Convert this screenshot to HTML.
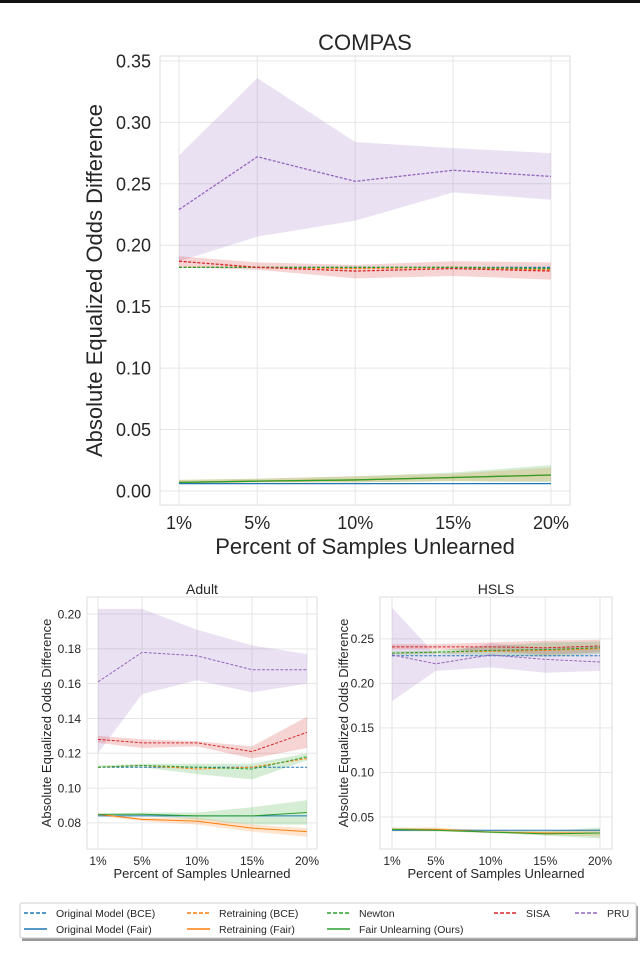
<!DOCTYPE html>
<html><head><meta charset="utf-8">
<style>
html,body{margin:0;padding:0;background:#fff;}
body{width:640px;height:975px;overflow:hidden;position:relative;font-family:"Liberation Sans",Arial,sans-serif;}
svg text{font-family:"Liberation Sans",Arial,sans-serif;fill:#262626;}
</style></head>
<body>
<svg id="fig" width="640" height="975" viewBox="0 0 640 975" xmlns="http://www.w3.org/2000/svg">
<rect x="0" y="0" width="640" height="3" fill="#111"/>
</svg>
<script>
const xCats = [1, 5, 10, 15, 20];
const xTickLabels = ["1%", "5%", "10%", "15%", "20%"];

// COMPAS
const compasYTicks = [0, 0.05, 0.10, 0.15, 0.20, 0.25, 0.30, 0.35];
const compasPruMean = [0.229, 0.272, 0.252, 0.261, 0.256];
const compasPruHi = [0.273, 0.336, 0.284, 0.279, 0.275];
const compasPruLo = [0.187, 0.207, 0.220, 0.243, 0.237];
const compasSisaMean = [0.187, 0.182, 0.179, 0.181, 0.179];
const compasSisaHi = [0.191, 0.186, 0.184, 0.187, 0.186];
const compasSisaLo = [0.182, 0.180, 0.173, 0.175, 0.172];
const compasNewton = [0.182, 0.182, 0.182, 0.182, 0.181];
const compasOrigBce = [0.182, 0.182, 0.182, 0.182, 0.182];
const compasRetrainBce = [0.182, 0.182, 0.181, 0.182, 0.180];
const compasOrigFair = [0.006, 0.006, 0.006, 0.006, 0.006];
const compasFairUnl = [0.007, 0.008, 0.009, 0.011, 0.013];
const compasFairHi = [0.009, 0.010, 0.012, 0.015, 0.021];
const compasFairLo = [0.006, 0.007, 0.007, 0.008, 0.007];
const compasRetrainFair = [0.007, 0.008, 0.009, 0.011, 0.013];
const compasRetrainFairHi = [0.009, 0.010, 0.012, 0.014, 0.019];
const compasRetrainFairLo = [0.006, 0.007, 0.007, 0.008, 0.008];

// Adult
const adultYTicks = [0.08, 0.10, 0.12, 0.14, 0.16, 0.18, 0.20];
const adultPruMean = [0.161, 0.178, 0.176, 0.168, 0.168];
const adultPruHi = [0.203, 0.203, 0.191, 0.182, 0.177];
const adultPruLo = [0.120, 0.154, 0.162, 0.155, 0.160];
const adultSisaMean = [0.128, 0.126, 0.126, 0.121, 0.132];
const adultSisaHi = [0.130, 0.128, 0.127, 0.124, 0.141];
const adultSisaLo = [0.126, 0.123, 0.124, 0.117, 0.123];
const adultNewton = [0.112, 0.113, 0.112, 0.111, 0.118];
const adultNewtonHi = [0.113, 0.114, 0.114, 0.114, 0.120];
const adultNewtonLo = [0.112, 0.112, 0.108, 0.105, 0.116];
const adultOrigBce = [0.112, 0.112, 0.112, 0.112, 0.112];
const adultRetrainBce = [0.112, 0.113, 0.111, 0.112, 0.117];
const adultOrigFair = [0.084, 0.084, 0.084, 0.084, 0.084];
const adultFairUnl = [0.085, 0.085, 0.084, 0.084, 0.086];
const adultFairHi = [0.085, 0.086, 0.086, 0.089, 0.093];
const adultFairLo = [0.084, 0.084, 0.082, 0.079, 0.079];
const adultRetrainFair = [0.085, 0.082, 0.081, 0.077, 0.075];
const adultRetrainFairHi = [0.085, 0.083, 0.083, 0.079, 0.077];
const adultRetrainFairLo = [0.084, 0.081, 0.079, 0.075, 0.072];

// HSLS
const hslsYTicks = [0.05, 0.10, 0.15, 0.20, 0.25];
const hslsPruMean = [0.232, 0.222, 0.232, 0.227, 0.224];
const hslsPruHi = [0.285, 0.232, 0.245, 0.240, 0.242];
const hslsPruLo = [0.180, 0.214, 0.218, 0.212, 0.214];
const hslsSisaMean = [0.241, 0.241, 0.241, 0.240, 0.242];
const hslsSisaHi = [0.244, 0.244, 0.246, 0.248, 0.249];
const hslsSisaLo = [0.238, 0.238, 0.236, 0.232, 0.235];
const hslsNewton = [0.234, 0.235, 0.237, 0.238, 0.240];
const hslsNewtonHi = [0.236, 0.237, 0.242, 0.246, 0.247];
const hslsNewtonLo = [0.232, 0.233, 0.232, 0.230, 0.233];
const hslsOrigBce = [0.231, 0.231, 0.231, 0.231, 0.231];
const hslsRetrainBce = [0.234, 0.235, 0.236, 0.237, 0.239];
const hslsOrigFair = [0.035, 0.035, 0.035, 0.035, 0.035];
const hslsFairUnl = [0.036, 0.035, 0.033, 0.031, 0.032];
const hslsFairHi = [0.038, 0.037, 0.035, 0.034, 0.038];
const hslsFairLo = [0.034, 0.034, 0.032, 0.029, 0.026];
const hslsRetrainFair = [0.036, 0.036, 0.033, 0.032, 0.032];
const hslsRetrainFairHi = [0.038, 0.038, 0.035, 0.034, 0.036];
const hslsRetrainFairLo = [0.034, 0.034, 0.032, 0.030, 0.028];

const C = {blue:"#1f77b4", orange:"#ff7f0e", green:"#2ca02c", red:"#d62728", purple:"#9467bd"};
const NS = "http://www.w3.org/2000/svg";
const fig = document.getElementById("fig");

function mk(tag, attrs, parent) {
  const e = document.createElementNS(NS, tag);
  for (const k in attrs) e.setAttribute(k, attrs[k]);
  (parent || fig).appendChild(e);
  return e;
}

function drawChart(cfg) {
  const g = mk("g", {});
  
  
  const xs = v => cfg.x1 + (v - 1) / 19 * (cfg.x20 - cfg.x1);
  const ys = v => cfg.bottom - (v - cfg.yMin) / (cfg.yMax - cfg.yMin) * (cfg.bottom - cfg.top);
  cfg.yTicks.forEach(t => {
    const l = mk("line", {x1: cfg.left, x2: cfg.right, y1: ys(t), y2: ys(t), stroke: "#e6e6e6", "stroke-width": 1}, g);
    
    
    const tx = mk("text", {x: cfg.left - cfg.tickGap, y: ys(t) + cfg.tickFs * 0.36, "text-anchor": "end", "font-size": cfg.tickFs}, g);
    tx.textContent = t.toFixed(2);
    
    
  });
  xCats.forEach((c, i) => {
    const l = mk("line", {x1: xs(c), x2: xs(c), y1: cfg.top, y2: cfg.bottom, stroke: "#e6e6e6", "stroke-width": 1}, g);
    
    
    const tx = mk("text", {x: xs(c), y: cfg.xTickY, "text-anchor": "middle", "font-size": cfg.tickFs}, g);
    tx.textContent = xTickLabels[i];
    
    
  });
  const fr = mk("rect", {x: cfg.left, y: cfg.top, width: cfg.right - cfg.left, height: cfg.bottom - cfg.top, fill: "none", stroke: "#dedede", "stroke-width": 1}, g);
  
  

  function band(hi, lo, color, op, name) {
    let d = "M" + xCats.map((c, i) => xs(c) + "," + ys(hi[i])).join("L");
    d += "L" + xCats.slice().reverse().map((c, j) => { const i = xCats.length - 1 - j; return xs(c) + "," + ys(lo[i]); }).join("L") + "Z";
    const p = mk("path", {d: d, fill: color, "fill-opacity": op, stroke: "none"}, g);
    
    
  }
  function line(vals, color, dashed, name) {
    const d = "M" + xCats.map((c, i) => xs(c) + "," + ys(vals[i])).join("L");
    const p = mk("path", {d: d, fill: "none", stroke: color, "stroke-width": cfg.lw}, g);
    if (dashed) p.setAttribute("stroke-dasharray", "3,1.6");
    
    
  }
  const s = cfg.s;
  band(s.pruHi, s.pruLo, C.purple, 0.2, 'pru-band');
  band(s.sisaHi, s.sisaLo, C.red, 0.2, 'sisa-band');
  if (s.newtonHi) band(s.newtonHi, s.newtonLo, C.green, 0.2, 'newton-band');
  band(s.rfHi, s.rfLo, C.orange, 0.2, 'retraining-fair-band');
  band(s.fairHi, s.fairLo, C.green, 0.2, 'fair-unlearning-band');
  line(s.origFair, C.blue, false, 'original-fair-line');
  line(s.retrainFair, C.orange, false, 'retraining-fair-line');
  line(s.fairUnl, C.green, false, 'fair-unlearning-line');
  line(s.origBce, C.blue, true, 'original-bce-line');
  line(s.retrainBce, C.orange, true, 'retraining-bce-line');
  line(s.newton, C.green, true, 'newton-line');
  line(s.sisa, C.red, true, 'sisa-line');
  line(s.pru, C.purple, true, 'pru-line');

  const tt = mk("text", {x: (cfg.left + cfg.right) / 2, y: cfg.titleY, "text-anchor": "middle", "font-size": cfg.titleFs}, g);
  tt.textContent = cfg.title;
  
  
  const xl = mk("text", {x: (cfg.left + cfg.right) / 2, y: cfg.xLabelY, "text-anchor": "middle", "font-size": cfg.labelFs}, g);
  xl.textContent = "Percent of Samples Unlearned";
  
  
  const cy = (cfg.top + cfg.bottom) / 2;
  const yl = mk("text", {x: cfg.yLabelX, y: cy, "text-anchor": "middle", "font-size": cfg.labelFs, transform: "rotate(-90 " + cfg.yLabelX + " " + cy + ")"}, g);
  yl.textContent = "Absolute Equalized Odds Difference";
  
  
}

drawChart({name: "compas", title: "COMPAS", left: 160, right: 570, top: 56, bottom: 505, x1: 179, x20: 551,
  yMin: -0.0114, yMax: 0.354, yTicks: compasYTicks, tickFs: 18, tickGap: 9, xTickY: 529, titleY: 50, titleFs: 22,
  labelFs: 22, xLabelY: 554, yLabelX: 102, lw: 1.3,
  s: {pru: compasPruMean, pruHi: compasPruHi, pruLo: compasPruLo, sisa: compasSisaMean, sisaHi: compasSisaHi, sisaLo: compasSisaLo,
      newton: compasNewton, origBce: compasOrigBce, retrainBce: compasRetrainBce, origFair: compasOrigFair,
      fairUnl: compasFairUnl, fairHi: compasFairHi, fairLo: compasFairLo, retrainFair: compasRetrainFair,
      rfHi: compasRetrainFairHi, rfLo: compasRetrainFairLo}});

drawChart({name: "adult", title: "Adult", left: 87, right: 317, top: 597, bottom: 849, x1: 98, x20: 307,
  yMin: 0.065, yMax: 0.2098, yTicks: adultYTicks, tickFs: 12, tickGap: 6, xTickY: 865, titleY: 594, titleFs: 14,
  labelFs: 13, xLabelY: 878, yLabelX: 51, lw: 1,
  s: {pru: adultPruMean, pruHi: adultPruHi, pruLo: adultPruLo, sisa: adultSisaMean, sisaHi: adultSisaHi, sisaLo: adultSisaLo,
      newton: adultNewton, newtonHi: adultNewtonHi, newtonLo: adultNewtonLo, origBce: adultOrigBce, retrainBce: adultRetrainBce,
      origFair: adultOrigFair, fairUnl: adultFairUnl, fairHi: adultFairHi, fairLo: adultFairLo, retrainFair: adultRetrainFair,
      rfHi: adultRetrainFairHi, rfLo: adultRetrainFairLo}});

drawChart({name: "hsls", title: "HSLS", left: 380, right: 612, top: 597, bottom: 849, x1: 392, x20: 600,
  yMin: 0.014, yMax: 0.297, yTicks: hslsYTicks, tickFs: 12, tickGap: 6, xTickY: 865, titleY: 594, titleFs: 14,
  labelFs: 13, xLabelY: 878, yLabelX: 348, lw: 1,
  s: {pru: hslsPruMean, pruHi: hslsPruHi, pruLo: hslsPruLo, sisa: hslsSisaMean, sisaHi: hslsSisaHi, sisaLo: hslsSisaLo,
      newton: hslsNewton, newtonHi: hslsNewtonHi, newtonLo: hslsNewtonLo, origBce: hslsOrigBce, retrainBce: hslsRetrainBce,
      origFair: hslsOrigFair, fairUnl: hslsFairUnl, fairHi: hslsFairHi, fairLo: hslsFairLo, retrainFair: hslsRetrainFair,
      rfHi: hslsRetrainFairHi, rfLo: hslsRetrainFairLo}});

// legend
const lg = mk("g", {});


mk("rect", {x: 22, y: 906, width: 616, height: 35, fill: "#9a9a9a"}, lg);
const box = mk("rect", {x: 20, y: 903, width: 616, height: 35, fill: "#fff", stroke: "#cfcfcf", "stroke-width": 1, rx: 2}, lg);


const legendItems = [
  ["Original Model (BCE)", C.blue, true, 24, 913],
  ["Original Model (Fair)", C.blue, false, 24, 929],
  ["Retraining (BCE)", C.orange, true, 187, 913],
  ["Retraining (Fair)", C.orange, false, 187, 929],
  ["Newton", C.green, true, 327, 913],
  ["Fair Unlearning (Ours)", C.green, false, 327, 929],
  ["SISA", C.red, true, 494, 913],
  ["PRU", C.purple, true, 575, 913]
];
legendItems.forEach(it => {
  const e = mk("g", {}, lg);
  
  
  const l = mk("line", {x1: it[3], x2: it[3] + 23, y1: it[4], y2: it[4], stroke: it[1], "stroke-width": 1.5}, e);
  if (it[2]) l.setAttribute("stroke-dasharray", "4,2");
  const t = mk("text", {x: it[3] + 32, y: it[4] + 4, "font-size": 10.5}, e);
  t.textContent = it[0];
});
</script>
</body></html>
